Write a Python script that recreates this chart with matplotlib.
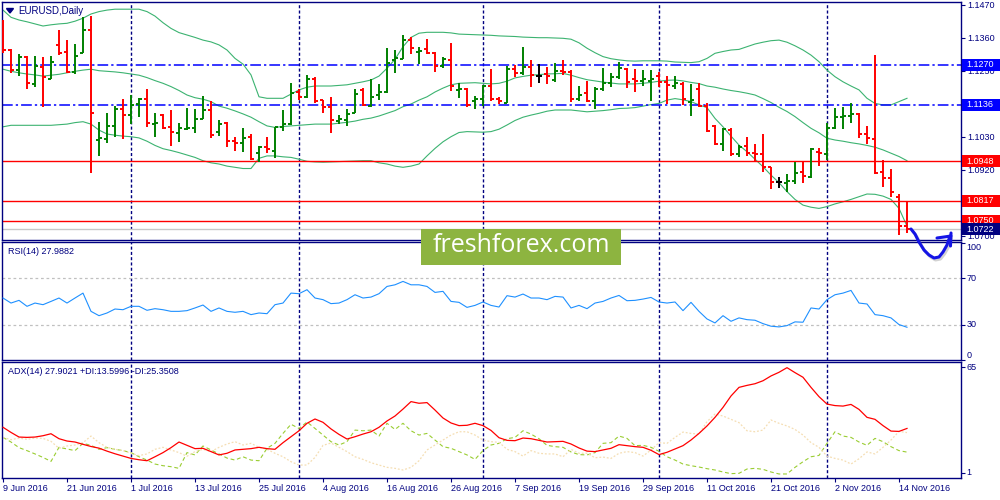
import matplotlib
matplotlib.use("Agg")
import matplotlib.pyplot as plt
import numpy as np
import pandas as pd
from matplotlib.patches import Rectangle, Polygon

plt.rcParams['font.family'] = ['Liberation Sans', 'DejaVu Sans']

# EURUSD daily bars, 9 Jun 2016 .. 15 Nov 2016
open_ = [1.1380, 1.1319, 1.1252, 1.1295, 1.1206, 1.1263, 1.1223, 1.1336, 1.1314, 1.1247,
         1.1308, 1.1386, 1.1019, 1.1021, 1.1066, 1.1121, 1.1102, 1.1139, 1.1155, 1.1072,
         1.1102, 1.1061, 1.1044, 1.1056, 1.1058, 1.1088, 1.1119, 1.1047, 1.1077, 1.1017,
         1.1010, 1.1030, 1.0975, 1.0995, 1.0984, 1.1061, 1.1072, 1.1180, 1.1161, 1.1223,
         1.1152, 1.1128, 1.1084, 1.1086, 1.1110, 1.1186, 1.1132, 1.1169, 1.1180, 1.1286,
         1.1288, 1.1352, 1.1314, 1.1321, 1.1310, 1.1266, 1.1286, 1.1186, 1.1188, 1.1150,
         1.1155, 1.1199, 1.1155, 1.1144, 1.1255, 1.1241, 1.1263, 1.1232, 1.1239, 1.1219,
         1.1250, 1.1247, 1.1155, 1.1175, 1.1150, 1.1188, 1.1208, 1.1228, 1.1255, 1.1221,
         1.1217, 1.1217, 1.1232, 1.1213, 1.1199, 1.1206, 1.1147, 1.1188, 1.1132, 1.1066,
         1.1006, 1.1052, 1.0972, 1.0999, 1.0975, 1.0972, 1.0928, 1.0880, 1.0877, 1.0883,
         1.0913, 1.0897, 1.0980, 1.0972, 1.1058, 1.1095, 1.1099, 1.1106, 1.1039, 1.1021,
         1.0913, 1.0891, 1.0830, 1.0732]
high = [1.1419, 1.1321, 1.1306, 1.1299, 1.1299, 1.1297, 1.1299, 1.1386, 1.1352, 1.1339,
        1.1428, 1.1432, 1.1080, 1.1110, 1.1132, 1.1155, 1.1169, 1.1158, 1.1188, 1.1110,
        1.1106, 1.1119, 1.1077, 1.1125, 1.1121, 1.1166, 1.1150, 1.1086, 1.1080, 1.1030,
        1.1058, 1.1039, 1.0999, 1.1030, 1.1064, 1.1119, 1.1208, 1.1188, 1.1235, 1.1228,
        1.1152, 1.1161, 1.1102, 1.1121, 1.1188, 1.1191, 1.1221, 1.1206, 1.1325, 1.1319,
        1.1369, 1.1361, 1.1330, 1.1355, 1.1314, 1.1297, 1.1343, 1.1210, 1.1191, 1.1166,
        1.1202, 1.1255, 1.1163, 1.1266, 1.1269, 1.1328, 1.1286, 1.1272, 1.1263, 1.1275,
        1.1286, 1.1252, 1.1199, 1.1217, 1.1195, 1.1258, 1.1243, 1.1280, 1.1258, 1.1255,
        1.1252, 1.1252, 1.1247, 1.1232, 1.1232, 1.1213, 1.1206, 1.1208, 1.1141, 1.1069,
        1.1058, 1.1058, 1.1002, 1.1028, 1.1006, 1.1039, 1.0930, 1.0897, 1.0906, 1.0947,
        1.0947, 1.0991, 1.0991, 1.1075, 1.1125, 1.1128, 1.1141, 1.1110, 1.1066, 1.1302,
        1.0952, 1.0921, 1.0839, 1.0813]
low = [1.1308, 1.1243, 1.1232, 1.1188, 1.1195, 1.1130, 1.1221, 1.1302, 1.1243, 1.1239,
       1.1308, 1.0908, 1.0966, 1.1008, 1.1030, 1.1021, 1.1072, 1.1097, 1.1061, 1.1028,
       1.1055, 1.0999, 1.1013, 1.1052, 1.1041, 1.1088, 1.1025, 1.1032, 1.0997, 1.0984,
       1.0980, 1.0952, 1.0947, 1.0975, 1.0958, 1.1050, 1.1069, 1.1152, 1.1158, 1.1141,
       1.1110, 1.1044, 1.1072, 1.1066, 1.1108, 1.1132, 1.1130, 1.1152, 1.1177, 1.1241,
       1.1288, 1.1306, 1.1272, 1.1306, 1.1247, 1.1258, 1.1184, 1.1158, 1.1130, 1.1121,
       1.1132, 1.1150, 1.1139, 1.1141, 1.1228, 1.1236, 1.1197, 1.1210, 1.1206, 1.1213,
       1.1236, 1.1147, 1.1150, 1.1147, 1.1121, 1.1184, 1.1195, 1.1221, 1.1191, 1.1180,
       1.1199, 1.1150, 1.1197, 1.1139, 1.1188, 1.1136, 1.1099, 1.1130, 1.1047, 1.1002,
       1.0984, 1.0966, 1.0961, 1.0966, 1.0947, 1.0913, 1.0855, 1.0858, 1.0847, 1.0872,
       1.0877, 1.0891, 1.0932, 1.0952, 1.1055, 1.1055, 1.1077, 1.1025, 1.1006, 1.0906,
       1.0863, 1.0828, 1.0702, 1.0708]
close = [1.1319, 1.1252, 1.1295, 1.1208, 1.1266, 1.1228, 1.1279, 1.1310, 1.1247, 1.1299,
         1.1386, 1.1108, 1.1025, 1.1066, 1.1121, 1.1102, 1.1136, 1.1155, 1.1075, 1.1077,
         1.1058, 1.1047, 1.1058, 1.1060, 1.1088, 1.1119, 1.1036, 1.1072, 1.1017, 1.1010,
         1.1025, 1.0955, 1.0995, 1.0988, 1.1061, 1.1072, 1.1177, 1.1161, 1.1223, 1.1150,
         1.1128, 1.1086, 1.1088, 1.1106, 1.1172, 1.1136, 1.1161, 1.1180, 1.1277, 1.1291,
         1.1352, 1.1325, 1.1317, 1.1308, 1.1266, 1.1288, 1.1199, 1.1190, 1.1136, 1.1155,
         1.1199, 1.1155, 1.1150, 1.1255, 1.1241, 1.1261, 1.1236, 1.1232, 1.1232, 1.1250,
         1.1247, 1.1155, 1.1169, 1.1150, 1.1188, 1.1208, 1.1228, 1.1258, 1.1213, 1.1217,
         1.1221, 1.1221, 1.1213, 1.1202, 1.1208, 1.1155, 1.1152, 1.1132, 1.1050, 1.1006,
         1.1055, 1.0972, 1.0997, 1.0975, 1.0972, 1.0930, 1.0880, 1.0880, 1.0883, 1.0908,
         1.0899, 1.0988, 1.0975, 1.1058, 1.1097, 1.1099, 1.1106, 1.1039, 1.1025, 1.0908,
         1.0891, 1.0847, 1.0732, 1.0722]

# Bollinger bands
bb_upper = [1.1452, 1.1428, 1.1419, 1.1413, 1.1406, 1.1399, 1.1403, 1.1406, 1.1408, 1.1415,
            1.1425, 1.1439, 1.1447, 1.1452, 1.1455, 1.1455, 1.1455, 1.1455, 1.1447, 1.1432,
            1.1410, 1.1391, 1.1377, 1.1369, 1.1361, 1.1352, 1.1346, 1.1336, 1.1319, 1.1291,
            1.1272, 1.1236, 1.1163, 1.1158, 1.1158, 1.1158, 1.1172, 1.1186, 1.1195, 1.1199,
            1.1199, 1.1199, 1.1201, 1.1203, 1.1208, 1.1213, 1.1219, 1.1232, 1.1258, 1.1288,
            1.1330, 1.1361, 1.1375, 1.1378, 1.1378, 1.1378, 1.1376, 1.1372, 1.1371, 1.1370,
            1.1369, 1.1368, 1.1366, 1.1365, 1.1364, 1.1362, 1.1361, 1.1360, 1.1360, 1.1359,
            1.1358, 1.1355, 1.1343, 1.1325, 1.1310, 1.1297, 1.1290, 1.1286, 1.1283, 1.1282,
            1.1283, 1.1283, 1.1283, 1.1282, 1.1279, 1.1278, 1.1277, 1.1280, 1.1291, 1.1308,
            1.1314, 1.1319, 1.1321, 1.1330, 1.1339, 1.1345, 1.1350, 1.1352, 1.1345, 1.1333,
            1.1319, 1.1302, 1.1280, 1.1252, 1.1230, 1.1213, 1.1199, 1.1186, 1.1158, 1.1141,
            1.1136, 1.1136, 1.1147, 1.1158]
bb_middle = [1.1255, 1.1248, 1.1243, 1.1239, 1.1236, 1.1232, 1.1235, 1.1238, 1.1243, 1.1248,
             1.1252, 1.1255, 1.1250, 1.1248, 1.1246, 1.1243, 1.1239, 1.1235, 1.1227, 1.1217,
             1.1208, 1.1197, 1.1184, 1.1169, 1.1160, 1.1155, 1.1147, 1.1132, 1.1125, 1.1116,
             1.1106, 1.1095, 1.1080, 1.1066, 1.1061, 1.1064, 1.1066, 1.1068, 1.1070, 1.1072,
             1.1072, 1.1072, 1.1075, 1.1078, 1.1082, 1.1088, 1.1092, 1.1099, 1.1108, 1.1117,
             1.1130, 1.1139, 1.1152, 1.1163, 1.1179, 1.1192, 1.1203, 1.1208, 1.1209, 1.1210,
             1.1208, 1.1206, 1.1208, 1.1215, 1.1226, 1.1231, 1.1235, 1.1237, 1.1239, 1.1240,
             1.1241, 1.1235, 1.1227, 1.1220, 1.1216, 1.1212, 1.1209, 1.1206, 1.1206, 1.1206,
             1.1208, 1.1211, 1.1215, 1.1218, 1.1219, 1.1216, 1.1211, 1.1207, 1.1199, 1.1195,
             1.1189, 1.1184, 1.1180, 1.1175, 1.1169, 1.1157, 1.1144, 1.1128, 1.1114, 1.1097,
             1.1077, 1.1058, 1.1043, 1.1025, 1.1019, 1.1015, 1.1010, 1.1006, 1.1001, 1.0995,
             1.0986, 1.0975, 1.0964, 1.0950]
bb_lower = [1.1063, 1.1068, 1.1068, 1.1068, 1.1068, 1.1068, 1.1068, 1.1070, 1.1072, 1.1077,
            1.1080, 1.1072, 1.1052, 1.1039, 1.1035, 1.1032, 1.1030, 1.1026, 1.1015, 1.1001,
            1.0990, 1.0984, 1.0977, 1.0969, 1.0961, 1.0950, 1.0943, 1.0939, 1.0932, 1.0928,
            1.0924, 1.0924, 1.0958, 1.0966, 1.0966, 1.0963, 1.0961, 1.0955, 1.0948, 1.0946,
            1.0945, 1.0946, 1.0947, 1.0948, 1.0949, 1.0950, 1.0950, 1.0943, 1.0939, 1.0932,
            1.0928, 1.0932, 1.0939, 1.0966, 1.0991, 1.1013, 1.1030, 1.1044, 1.1047, 1.1046,
            1.1045, 1.1047, 1.1055, 1.1069, 1.1084, 1.1095, 1.1102, 1.1108, 1.1115, 1.1119,
            1.1119, 1.1119, 1.1116, 1.1113, 1.1115, 1.1117, 1.1120, 1.1124, 1.1125, 1.1127,
            1.1132, 1.1137, 1.1141, 1.1152, 1.1157, 1.1153, 1.1147, 1.1136, 1.1127, 1.1091,
            1.1063, 1.1032, 1.1002, 1.0980, 1.0955, 1.0930, 1.0902, 1.0877, 1.0847, 1.0821,
            1.0802, 1.0795, 1.0791, 1.0797, 1.0806, 1.0813, 1.0821, 1.0830, 1.0839, 1.0838,
            1.0832, 1.0821, 1.0791, 1.0732]

rsi = [53.0, 48.7, 51.0, 45.9, 48.7, 47.3, 50.1, 53.0, 48.7, 53.0,
       57.2, 41.6, 37.9, 40.2, 43.6, 43.0, 45.9, 45.9, 42.5, 43.9,
       43.0, 41.6, 41.6, 42.2, 44.5, 47.0, 41.6, 44.5, 41.6, 40.8,
       41.6, 38.8, 40.2, 39.6, 47.3, 48.7, 57.2, 56.7, 60.1, 53.0,
       51.6, 48.2, 48.7, 51.6, 55.8, 53.0, 53.8, 56.7, 62.9, 64.3,
       67.2, 64.3, 64.3, 62.9, 57.8, 58.7, 50.1, 49.3, 45.0, 46.7,
       49.6, 46.7, 45.3, 55.0, 53.8, 56.4, 53.0, 53.0, 51.6, 54.4,
       53.8, 44.5, 46.7, 43.9, 48.7, 50.1, 53.0, 55.2, 50.7, 51.0,
       52.1, 53.5, 49.6, 48.7, 49.6, 42.2, 49.3, 41.6, 35.1, 31.7,
       37.9, 33.1, 36.0, 34.5, 34.0, 31.1, 28.9, 28.3, 29.4, 32.6,
       32.3, 44.5, 43.6, 51.6, 55.8, 57.2, 59.5, 48.7, 47.9, 38.8,
       37.9, 36.0, 30.3, 28.0]

adx = [28.6, 25.5, 22.7, 22.5, 22.7, 23.5, 24.7, 21.7, 20.3, 19.7,
       18.3, 17.0, 16.0, 14.2, 12.6, 11.2, 9.8, 9.0, 8.4, 10.8,
       13.3, 16.3, 19.7, 17.7, 15.7, 15.9, 13.9, 11.9, 12.9, 14.9,
       15.3, 15.7, 16.5, 15.7, 15.3, 19.3, 22.9, 26.5, 31.0, 33.6,
       31.6, 27.6, 24.3, 21.5, 22.9, 24.5, 25.9, 28.6, 32.4, 35.4,
       39.6, 44.1, 43.1, 43.5, 39.0, 34.2, 31.2, 29.6, 29.8, 31.0,
       29.6, 26.7, 22.3, 20.7, 20.5, 22.1, 21.7, 20.7, 19.7, 19.9,
       20.1, 18.5, 16.1, 14.2, 13.9, 14.9, 15.9, 18.1, 17.5, 16.9,
       16.5, 14.7, 12.1, 13.5, 15.5, 17.5, 20.9, 24.9, 29.4, 34.6,
       40.6, 47.5, 52.7, 53.9, 54.9, 56.7, 59.6, 61.8, 64.6, 61.6,
       58.8, 52.7, 47.1, 42.6, 41.7, 41.4, 42.4, 39.4, 34.6, 33.4,
       29.6, 26.3, 26.1, 27.9]
plus_di = [22.5, 19.7, 16.3, 14.5, 12.5, 10.4, 8.0, 16.5, 15.5, 14.5,
           18.9, 17.7, 15.3, 16.3, 15.3, 14.5, 13.3, 10.8, 8.8, 6.4,
           5.4, 4.8, 3.8, 13.3, 11.9, 17.3, 14.9, 12.5, 10.0, 8.8,
           10.8, 8.8, 8.4, 15.9, 18.9, 24.9, 30.4, 27.9, 31.8, 27.9,
           23.9, 19.9, 17.9, 19.9, 26.9, 26.5, 26.9, 23.3, 31.0, 27.3,
           31.0, 26.5, 23.9, 24.9, 20.9, 16.9, 15.9, 13.9, 11.9, 9.2,
           14.5, 17.9, 18.9, 21.7, 22.5, 26.5, 24.5, 21.7, 17.7, 16.9,
           16.5, 13.7, 12.1, 11.9, 13.3, 18.9, 19.3, 23.3, 21.9, 17.5,
           17.7, 16.5, 14.1, 10.8, 8.8, 6.4, 5.4, 4.6, 3.6, 2.8,
           1.6, 0.6, 0.8, 3.4, 3.8, 3.2, 1.6, 0.4, 0.4, 4.4,
           7.8, 10.8, 11.6, 18.9, 25.9, 23.3, 22.5, 19.7, 17.7, 21.9,
           19.9, 16.9, 14.5, 13.6]
minus_di = [22.5, 21.1, 22.1, 21.3, 22.1, 21.9, 20.1, 15.9, 17.3, 17.9,
            19.3, 23.3, 19.3, 16.5, 15.3, 14.5, 12.9, 11.5, 12.5, 15.3,
            16.5, 14.9, 13.3, 11.1, 13.9, 15.3, 13.9, 16.5, 18.5, 19.9,
            17.9, 18.9, 16.5, 15.3, 12.9, 10.8, 7.8, 5.8, 5.8, 10.4,
            17.7, 19.1, 16.5, 13.9, 10.8, 9.2, 7.2, 5.8, 4.4, 3.8,
            2.8, 4.4, 8.4, 14.9, 17.9, 20.9, 23.9, 25.9, 25.9, 23.9,
            20.9, 19.9, 19.5, 15.3, 13.9, 11.2, 14.5, 12.9, 12.5, 12.5,
            10.8, 15.3, 12.9, 12.9, 10.2, 10.6, 9.8, 12.9, 13.9, 13.3,
            11.2, 14.9, 19.3, 18.9, 22.5, 25.7, 24.9, 24.5, 32.0, 36.6,
            35.4, 33.4, 31.4, 26.5, 25.9, 26.9, 33.0, 31.0, 29.4, 27.3,
            23.9, 19.3, 16.5, 11.2, 9.8, 8.8, 6.4, 9.6, 13.7, 12.5,
            16.5, 20.9, 26.1, 25.4]

# drawn levels
blue_levels = [1.1270, 1.1136]
red_levels = [1.0948, 1.0817, 1.0750]
bid = 1.0722
price_ticks = [1.1470, 1.1360, 1.1250, 1.1030, 1.0920, 1.0700]
month_starts = ['2016-07-01', '2016-08-01', '2016-09-01', '2016-10-03', '2016-11-01']

NAVY = '#000080'
FS = 6.5

open_, high, low, close = map(np.array, (open_, high, low, close))
x = np.arange(len(close))
dates = pd.bdate_range('2016-06-09', periods=len(close))
sep_idx = [dates.get_loc(pd.Timestamp(d)) for d in month_starts]

fig = plt.figure(figsize=(10, 5), dpi=100)


def px_axes(top, bottom, left=2, right=961):
    return fig.add_axes([left / 1000, 1 - bottom / 500, (right - left) / 1000, (bottom - top) / 500])


ax = px_axes(2, 240)
ax_rsi = px_axes(242, 360)
ax_adx = px_axes(362, 478)

for a in (ax, ax_rsi, ax_adx):
    a.set_xlim(-0.125, 119.75)
    for s in a.spines.values():
        s.set_color(NAVY)
        s.set_linewidth(1)
    a.yaxis.tick_right()
    a.tick_params(axis='y', colors=NAVY, labelsize=FS, length=3, width=0.8, pad=1.5)
    a.tick_params(axis='x', bottom=False, labelbottom=False)
    for i in sep_idx:
        a.axvline(i, color=NAVY, lw=1, ls=(0, (2.2, 1.6)), zorder=1)

# price panel
cols = np.where(close > open_, 'green', np.where(close < open_, 'red', 'black'))
ax.vlines(x, low, high, colors=cols, lw=1.4, zorder=3)
ax.hlines(open_, x - 0.38, x, colors=cols, lw=1.4, zorder=3)
ax.hlines(close, x, x + 0.38, colors=cols, lw=1.4, zorder=3)
for band in (bb_upper, bb_middle, bb_lower):
    ax.plot(x, band, color='#3cb371', lw=0.8, zorder=2)
for lv in blue_levels:
    ax.axhline(lv, color='blue', lw=1.1, ls=(0, (7, 2, 1.5, 2)), zorder=2)
for lv in red_levels:
    ax.axhline(lv, color='red', lw=1, zorder=2)
ax.axhline(bid, color='#c8c8c8', lw=1, zorder=1.5)
ax.set_ylim(1.06857, 1.14790)
ax.set_yticks(price_ticks)
ax.set_yticklabels([f'{p:.4f}' for p in price_ticks])

tr = ax.get_yaxis_transform()
boxes = [(lv, 'blue') for lv in blue_levels] + [(lv, 'red') for lv in red_levels] + [(bid, NAVY)]
for lv, c in boxes:
    ax.add_patch(Rectangle((1.0009, lv - 0.0020), 0.0396, 0.0040, transform=tr,
                           facecolor=c, edgecolor='none', clip_on=False, zorder=6))
    ax.text(1.0052, lv, f'{lv:.4f}', transform=tr, color='white', fontsize=FS,
            va='center', ha='left', clip_on=False, zorder=7)

# RSI panel
ax_rsi.plot(x, rsi, color='#1e90ff', lw=0.8, zorder=3)
for lv in (70, 30):
    ax_rsi.axhline(lv, color='#c0c0c0', lw=0.9, ls=(0, (2.2, 2.2)), zorder=1)
ax_rsi.set_ylim(0.47, 100.9)
ax_rsi.set_yticks([0, 30, 70, 100])
ax_rsi.tick_params(axis='y', labelright=False)
rtr = ax_rsi.get_yaxis_transform()
for v, va in ((100, 'top'), (70, 'center'), (30, 'center'), (0, 'bottom')):
    ax_rsi.text(1.0055, v, str(v), transform=rtr, color=NAVY, fontsize=FS, va=va, ha='left')

# ADX panel
ax_adx.plot(x, plus_di, color='#9acd32', lw=0.8, ls=(0, (3.5, 2.5)), zorder=2)
ax_adx.plot(x, minus_di, color='#f5deb3', lw=0.9, ls=(0, (1.5, 1.5)), zorder=2)
ax_adx.plot(x, adx, color='red', lw=0.9, zorder=3)
ax_adx.set_ylim(-2.03, 68.02)
ax_adx.set_yticks([1, 65])
ax_adx.tick_params(axis='y', labelright=False)
atr = ax_adx.get_yaxis_transform()
for v in (65, 1):
    ax_adx.text(1.0055, v, str(v), transform=atr, color=NAVY, fontsize=FS, va='center', ha='left')

ax_adx.set_xticks(x[::8])
ax_adx.set_xticklabels([f'{d.day} {d:%b %Y}' for d in dates[::8]])
ax_adx.tick_params(axis='x', bottom=True, labelbottom=True, direction='out', length=3,
                   width=0.8, colors=NAVY, labelsize=FS, pad=1.5)
plt.setp(ax_adx.get_xticklabels(), ha='left')

# overlay: captions, watermark, hand drawn arrow
ov = fig.add_axes([0, 0, 1, 1])
ov.set_xlim(0, 1000)
ov.set_ylim(500, 0)
ov.axis('off')
ov.add_patch(Polygon([(6.5, 8.5), (13.5, 8.5), (10, 13)], closed=True, color=NAVY))
ov.text(18, 11, 'EURUSD,Daily', fontsize=7, color=NAVY, va='center', ha='left')
ov.text(8, 251.5, 'RSI(14) 27.9882', fontsize=FS, color=NAVY, va='center', ha='left')
ov.text(8, 371.5, 'ADX(14) 27.9021 +DI:13.5996 -DI:25.3508', fontsize=FS, color=NAVY,
        va='center', ha='left')

ov.add_patch(Rectangle((421, 229), 200, 36, facecolor='#8db440', edgecolor='none'))
ov.text(521, 246, 'freshforex.com', fontsize=18, color='white', family='Open Sans',
        ha='center', va='center')

ax_pts = [911, 915, 919, 924, 929, 934, 939, 943, 947, 950]
ay_pts = [229, 234, 242, 250, 255, 258, 257, 252, 245, 236]
ov.plot(np.add(ax_pts, 1.5), np.add(ay_pts, 2), color='#808080', lw=2.2, alpha=0.35,
        solid_capstyle='round')
ov.plot(ax_pts, ay_pts, color='#1414e6', lw=2.2, solid_capstyle='round', solid_joinstyle='round')
ov.plot([937, 951], [238, 236], color='#1414e6', lw=2.2, solid_capstyle='round')
ov.plot([951, 950.5], [233, 246], color='#1414e6', lw=2.2, solid_capstyle='round')

fig.savefig('out.png', dpi=100, facecolor='white')
